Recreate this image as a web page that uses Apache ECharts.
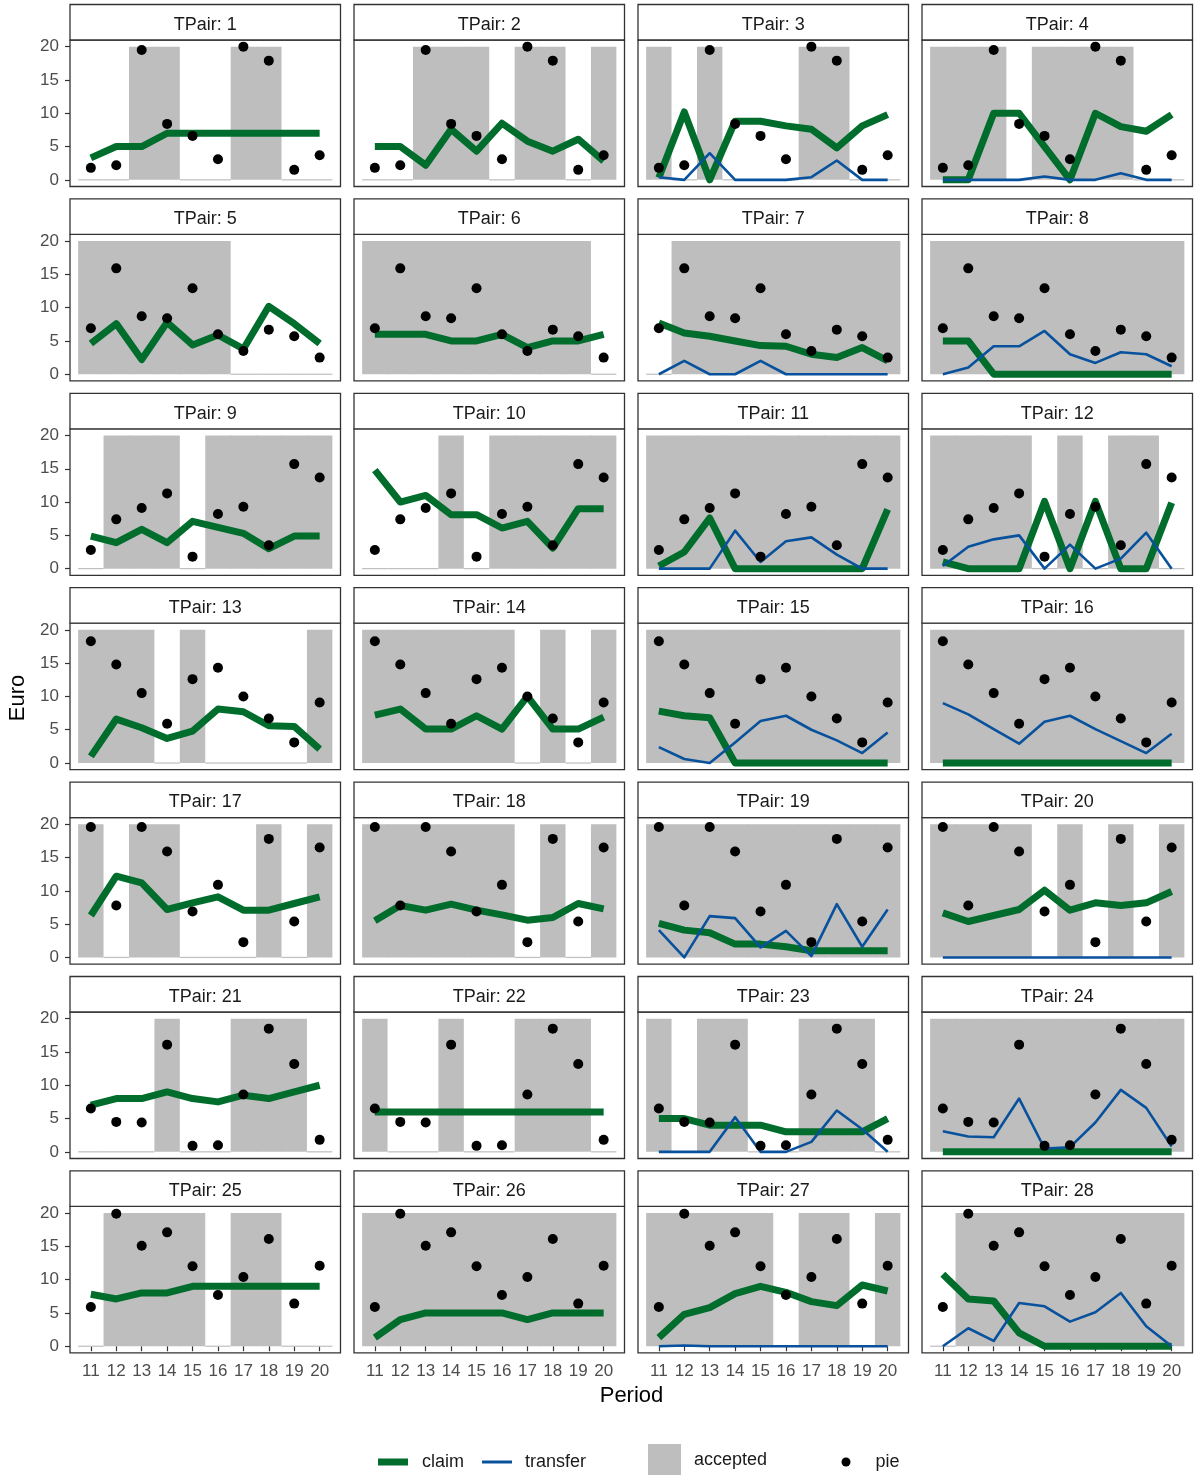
<!DOCTYPE html>
<html>
<head>
<meta charset="utf-8">
<title>TPair claims</title>
<script src="https://cdn.jsdelivr.net/npm/echarts@6.0.0/dist/echarts.min.js"></script>
<style>
  html, body { margin: 0; padding: 0; background: #fff; }
  #main { width: 1195px; height: 1475px; }
</style>
</head>
<body>
<div id="main"></div>
<script>
// 横轴: 期数
const periods = [11, 12, 13, 14, 15, 16, 17, 18, 19, 20];
const yTicks = [0, 5, 10, 15, 20];
const pairs = [1, 2, 3, 4, 5, 6, 7, 8, 9, 10, 11, 12, 13, 14,
  15, 16, 17, 18, 19, 20, 21, 22, 23, 24, 25, 26, 27, 28];

// pie: 每行 4 个 TPair 共用一组
const pie = [
  [1.8, 2.2, 19.5, 8.4, 6.6, 3.1, 20, 17.9, 1.5, 3.7],
  [6.9, 15.9, 8.7, 8.4, 12.9, 6, 3.5, 6.7, 5.7, 2.5],
  [2.8, 7.4, 9.1, 11.3, 1.8, 8.2, 9.3, 3.5, 15.7, 13.7],
  [18.3, 14.8, 10.5, 5.9, 12.6, 14.3, 10, 6.7, 3.1, 9.1],
  [19.6, 7.8, 19.6, 15.9, 6.9, 10.9, 2.3, 17.8, 5.4, 16.5],
  [6.5, 4.5, 4.4, 16.1, 0.9, 1, 8.6, 18.5, 13.2, 1.8],
  [5.9, 19.9, 15.1, 17.1, 12, 7.7, 10.4, 16.1, 6.4, 12.1],
];

// claim, 每个 TPair 一组
const claim = [
  [3.3, 5, 5, 7, 7, 7, 7, 7, 7, 7],
  [5, 5, 2.2, 7.6, 4.3, 8.5, 5.8, 4.3, 6.1, 2.8],
  [0.3, 10.2, 0, 8.8, 8.8, 8.1, 7.6, 4.8, 8.1, 9.8],
  [0, 0, 10, 10, 5, 0, 10, 8, 7.3, 9.8],
  [4.6, 7.6, 2.2, 7.8, 4.4, 5.9, 3.8, 10.2, 7.6, 4.6],
  [6, 6, 6, 5, 5, 6, 4, 5, 5, 6],
  [7.7, 6.2, 5.7, 5, 4.3, 4.2, 3, 2.5, 4, 2],
  [5, 5, 0, 0, 0, 0, 0, 0, 0, 0],
  [4.9, 3.9, 5.9, 3.9, 7.1, 6.2, 5.3, 3, 4.9, 4.9],
  [14.8, 10, 11, 8.1, 8.1, 6.1, 7.1, 3.1, 9, 9],
  [0.4, 2.5, 7.6, 0, 0, 0, 0, 0, 0, 8.9],
  [1, 0, 0, 0, 10.1, 0, 10.1, 0, 0, 9.9],
  [1, 6.6, 5.3, 3.7, 4.8, 8.1, 7.7, 5.6, 5.5, 2.1],
  [7.2, 8.1, 5.1, 5.1, 7.1, 5.1, 10, 5.1, 5.1, 6.9],
  [7.8, 7.1, 6.8, 0, 0, 0, 0, 0, 0, 0],
  [0, 0, 0, 0, 0, 0, 0, 0, 0, 0],
  [6.3, 12.2, 11.2, 7.2, 8.2, 9.1, 7.1, 7.1, 8.1, 9.1],
  [5.5, 7.8, 7.1, 8, 7.1, 6.4, 5.6, 6, 8.1, 7.3],
  [5.1, 4.1, 3.7, 2, 2, 1.6, 1, 1, 1, 1],
  [6.7, 5.4, 6.3, 7.2, 10.1, 7.1, 8.2, 7.8, 8.2, 9.9],
  [7, 8, 8, 9, 8, 7.5, 8.5, 8, 9, 10],
  [6, 6, 6, 6, 6, 6, 6, 6, 6, 6],
  [5, 5, 4, 4, 4, 3, 3, 3, 3, 5],
  [0, 0, 0, 0, 0, 0, 0, 0, 0, 0],
  [7.8, 7.1, 8, 8, 9, 9, 9, 9, 9, 9],
  [1.3, 4, 5, 5, 5, 5, 4, 5, 5, 5],
  [1.3, 4.8, 5.8, 7.9, 9, 8.1, 6.7, 6.1, 9.2, 8.3],
  [10.8, 7.1, 6.8, 2, 0, 0, 0, 0, 0, 0],
];

// transfer, 左两列没有
const transfer = [
  null, null, [0.4, 0, 4, 0, 0, 0, 0.4, 2.9, 0, 0], [0, 0, 0, 0, 0.5, 0, 0, 1, 0, 0],
  null, null, [0, 2, 0, 0, 2, 0, 0, 0, 0, 0], [0, 1, 4.2, 4.2, 6.5, 3, 1.7, 3.3, 3, 1.2],
  null, null, [0, 0, 0, 5.7, 1, 4.1, 4.7, 2.1, 0, 0], [0.4, 3.3, 4.4, 5, 0, 3.6, 0, 1.5, 5.4, 0],
  null, null, [2.4, 0.6, 0, 3.1, 6.3, 7.1, 5, 3.4, 1.5, 4.6], [9, 7.3, 5.1, 2.9, 6.2, 7.1, 5.1, 3.3, 1.5, 4.4],
  null, null, [4.1, 0, 6.2, 5.9, 1.5, 4, 0.2, 8, 1.6, 7.2], [0, 0, 0, 0, 0, 0, 0, 0, 0, 0],
  null, null, [0, 0, 0, 5.2, 0, 0, 1.5, 6.2, 3.4, 0], [3.1, 2.3, 2.2, 8, 0.5, 0.7, 4.4, 9.3, 6.6, 0.8],
  null, null, [0, 0.1, 0, 0, 0, 0, 0, 0, 0, 0], [0, 2.7, 0.8, 6.5, 6, 3.7, 5.1, 8, 3, 0],
];

// accepted: 1 = 灰色区块
const accepted = [
  [0, 0, 1, 1, 0, 0, 1, 1, 0, 0],
  [0, 0, 1, 1, 1, 0, 1, 1, 0, 1],
  [1, 0, 1, 0, 0, 0, 1, 1, 0, 0],
  [1, 1, 1, 0, 1, 1, 1, 1, 0, 0],
  [1, 1, 1, 1, 1, 1, 0, 0, 0, 0],
  [1, 1, 1, 1, 1, 1, 1, 1, 1, 0],
  [0, 1, 1, 1, 1, 1, 1, 1, 1, 1],
  [1, 1, 1, 1, 1, 1, 1, 1, 1, 1],
  [0, 1, 1, 1, 0, 1, 1, 1, 1, 1],
  [0, 0, 0, 1, 0, 1, 1, 1, 1, 1],
  [1, 1, 1, 1, 1, 1, 1, 1, 1, 1],
  [1, 1, 1, 1, 0, 1, 0, 1, 1, 0],
  [1, 1, 1, 0, 1, 0, 0, 0, 0, 1],
  [1, 1, 1, 1, 1, 1, 0, 1, 0, 1],
  [1, 1, 1, 1, 1, 1, 1, 1, 1, 1],
  [1, 1, 1, 1, 1, 1, 1, 1, 1, 1],
  [1, 0, 1, 1, 0, 0, 0, 1, 0, 1],
  [1, 1, 1, 1, 1, 1, 0, 1, 0, 1],
  [1, 1, 1, 1, 1, 1, 1, 1, 1, 1],
  [1, 1, 1, 1, 0, 1, 0, 1, 0, 1],
  [0, 0, 0, 1, 0, 0, 1, 1, 1, 0],
  [1, 0, 0, 1, 0, 0, 1, 1, 1, 0],
  [1, 0, 1, 1, 0, 0, 1, 1, 1, 0],
  [1, 1, 1, 1, 1, 1, 1, 1, 1, 1],
  [0, 1, 1, 1, 1, 0, 1, 1, 0, 0],
  [1, 1, 1, 1, 1, 1, 1, 1, 1, 1],
  [1, 1, 1, 1, 1, 0, 1, 1, 0, 1],
  [0, 1, 1, 1, 1, 1, 1, 1, 1, 1],
];

const kFont = '"Liberation Sans", Arial, sans-serif';
const kGreen = '#006d2c';
const kBlue = '#08519c';
const kGrey = '#bebebe';
const kBorder = '#333333';

// 版面
const kPanelLeft = 70;
const kPanelPitchX = 284;
const kPanelWidth = 270.5;
const kStripTop = 4.5;
const kRowPitch = 194.4;
const kStripHeight = 35.5;
const kPlotHeight = 146.5;
const kCols = 4;

window.onload = function () {
  const chart = echarts.init(document.getElementById('main'), null, { renderer: 'canvas' });
  chart.setOption(buildOption());
};

/**
 * accepted 区块: 接受的期画灰色矩形, 否则只在 0 处画一条细线
 */
function renderAccepted(params, api) {
  const p = api.value(0);
  const a = api.value(1);
  const topLeft = api.coord([p - 0.5, 20]);
  const bottomRight = api.coord([p + 0.5, 0]);
  if (a) {
    // 多出 1px 与右邻重叠, 避免接缝
    const nextAccepted = params.dataIndex + 1 < periods.length && api.value(1, params.dataIndex + 1);
    return {
      type: 'rect',
      shape: {
        x: topLeft[0],
        y: topLeft[1],
        width: bottomRight[0] - topLeft[0] + (nextAccepted ? 1 : 0),
        height: bottomRight[1] - topLeft[1],
      },
      style: { fill: kGrey },
    };
  }
  return {
    type: 'line',
    shape: { x1: topLeft[0], y1: bottomRight[1], x2: bottomRight[0], y2: bottomRight[1] },
    style: { stroke: kGrey, lineWidth: 1.2 },
  };
}

function buildOption() {
  const grid = [];
  const xAxis = [];
  const yAxis = [];
  const series = [];
  const graphic = [];
  const lastRow = Math.ceil(pairs.length / kCols) - 1;

  pairs.forEach((pair, i) => {
    const row = Math.floor(i / kCols);
    const col = i % kCols;
    const left = kPanelLeft + col * kPanelPitchX;
    const stripTop = kStripTop + row * kRowPitch;
    const plotTop = stripTop + kStripHeight;

    grid.push({
      left,
      top: plotTop,
      width: kPanelWidth,
      height: kPlotHeight,
      show: true,
      backgroundColor: '#fff',
      borderColor: kBorder,
      borderWidth: 1.3,
      containLabel: false,
      outerBoundsMode: 'none',
    });

    xAxis.push({
      gridIndex: i,
      type: 'value',
      min: 10.18,
      max: 20.82,
      axisLine: { show: false },
      splitLine: { show: false },
      axisTick: {
        show: row === lastRow,
        customValues: periods,
        length: 5,
        lineStyle: { color: kBorder, width: 1.2 },
      },
      axisLabel: {
        show: row === lastRow,
        customValues: periods,
        margin: 10,
        fontSize: 17,
        fontFamily: kFont,
        color: '#4d4d4d',
      },
    });

    yAxis.push({
      gridIndex: i,
      type: 'value',
      min: -1,
      max: 21,
      axisLine: { show: false },
      splitLine: { show: false },
      axisTick: {
        show: col === 0,
        customValues: yTicks,
        length: 5,
        lineStyle: { color: kBorder, width: 1.2 },
      },
      axisLabel: {
        show: col === 0,
        customValues: yTicks,
        margin: 11,
        fontSize: 17,
        fontFamily: kFont,
        color: '#4d4d4d',
      },
    });

    series.push({
      name: 'accepted',
      type: 'custom',
      xAxisIndex: i,
      yAxisIndex: i,
      silent: true,
      z: 1,
      itemStyle: { color: kGrey },
      renderItem: renderAccepted,
      data: periods.map((p, k) => [p, accepted[i][k]]),
    });

    series.push({
      name: 'claim',
      type: 'line',
      xAxisIndex: i,
      yAxisIndex: i,
      silent: true,
      z: 2,
      symbol: 'none',
      itemStyle: { color: kGreen },
      lineStyle: { color: kGreen, width: 7, cap: 'butt', join: 'round' },
      data: periods.map((p, k) => [p, claim[i][k]]),
    });

    if (transfer[i]) {
      series.push({
        name: 'transfer',
        type: 'line',
        xAxisIndex: i,
        yAxisIndex: i,
        silent: true,
        z: 3,
        symbol: 'none',
        itemStyle: { color: kBlue },
        lineStyle: { color: kBlue, width: 2.6, cap: 'butt', join: 'round' },
        data: periods.map((p, k) => [p, transfer[i][k]]),
      });
    }

    series.push({
      name: 'pie',
      type: 'scatter',
      xAxisIndex: i,
      yAxisIndex: i,
      silent: true,
      z: 4,
      symbol: 'circle',
      symbolSize: 10,
      itemStyle: { color: '#000', opacity: 1 },
      data: periods.map((p, k) => [p, pie[row][k]]),
    });

    // 分面标题
    graphic.push({
      type: 'rect',
      silent: true,
      shape: { x: left, y: stripTop, width: kPanelWidth, height: kStripHeight },
      style: { fill: '#fff', stroke: kBorder, lineWidth: 1.3 },
    });
    graphic.push({
      type: 'text',
      silent: true,
      x: left + kPanelWidth / 2,
      y: stripTop + kStripHeight / 2 + 2.5,
      style: {
        text: `TPair: ${pair}`,
        align: 'center',
        verticalAlign: 'middle',
        fontSize: 18,
        fontFamily: kFont,
        fill: '#1a1a1a',
      },
    });
  });

  // 坐标轴标题
  graphic.push({
    type: 'text',
    silent: true,
    x: 18,
    y: 698,
    rotation: Math.PI / 2,
    style: { text: 'Euro', align: 'center', verticalAlign: 'middle', fontSize: 22, fontFamily: kFont, fill: '#000' },
  });
  graphic.push({
    type: 'text',
    silent: true,
    x: 631.5,
    y: 1396,
    style: { text: 'Period', align: 'center', verticalAlign: 'middle', fontSize: 22, fontFamily: kFont, fill: '#000' },
  });

  const legendText = { fontSize: 18, fontFamily: kFont, color: '#1a1a1a' };
  const legend = [
    { data: [{ name: 'claim', icon: 'rect' }], left: 378, top: 1453, itemWidth: 30, itemHeight: 7,
      textStyle: Object.assign({ padding: [0, 0, 0, 9] }, legendText) },
    { data: [{ name: 'transfer', icon: 'rect' }], left: 482, top: 1453, itemWidth: 30, itemHeight: 3,
      textStyle: Object.assign({ padding: [0, 0, 0, 8] }, legendText) },
    { data: [{ name: 'accepted', icon: 'rect' }], left: 648, top: 1444, itemWidth: 33, itemHeight: 33,
      textStyle: Object.assign({ padding: [5, 0, 0, 8] }, legendText) },
    { data: [{ name: 'pie', icon: 'circle' }], left: 841.5, top: 1453, itemWidth: 9, itemHeight: 9,
      textStyle: Object.assign({ padding: [0, 0, 0, 20] }, legendText) },
  ].map(l => Object.assign({ padding: 0, selectedMode: false, itemGap: 0 }, l));

  return {
    animation: false,
    backgroundColor: '#fff',
    grid,
    xAxis,
    yAxis,
    series,
    legend,
    graphic,
  };
}
</script>
</body>
</html>
